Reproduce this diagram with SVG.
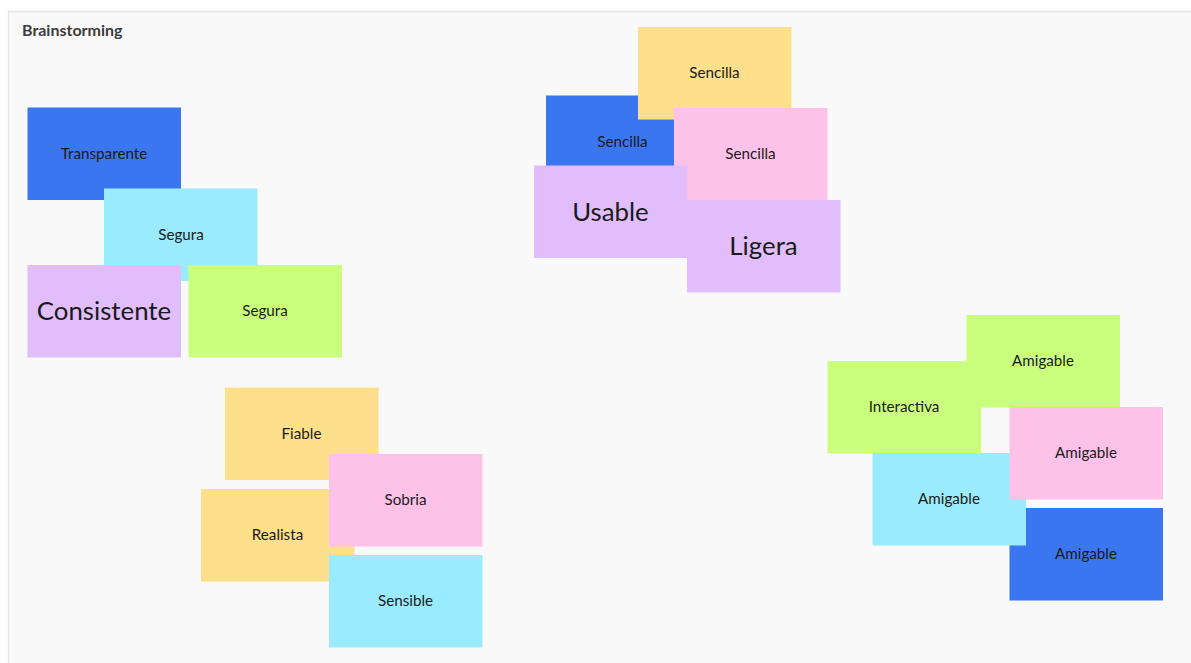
<svg xmlns="http://www.w3.org/2000/svg" width="1191" height="663" viewBox="0 0 1191 663">
<style>
.blue{fill:#3a76f0}
.cyan{fill:#9aebfd}
.purple{fill:#e1bdfb}
.green{fill:#caff7e}
.yellow{fill:#fddf8c}
.pink{fill:#fec2e9}
text{font-family:Lato,"Liberation Sans",sans-serif;fill:#1a1a1a;text-anchor:middle;dominant-baseline:central}
.t{font-size:15.2px}
.b{font-size:25.8px}
</style>
<rect x="0" y="0" width="1191" height="663" fill="#ffffff"/>
<rect x="8.5" y="11.5" width="1200" height="700" fill="#f9f9f9" stroke="#e6e6e6" stroke-width="1.5"/>
<text x="22" y="29.5" style="font-size:16px;font-weight:bold;fill:#3c3c3c;text-anchor:start">Brainstorming</text>
<g id="connectors"></g>
<g id="n-transparente"><rect class="blue" x="27.5" y="107.5" width="153.5" height="92.5"/><text class="t" x="104" y="153">Transparente</text></g>
<g id="n-segura1"><rect class="cyan" x="104" y="188.5" width="153.5" height="92.5"/><text class="t" x="181" y="234">Segura</text></g>
<g id="n-consistente"><rect class="purple" x="27.5" y="265" width="153.5" height="92.5"/><text class="b" x="104" y="310">Consistente</text></g>
<g id="n-segura2"><rect class="green" x="188.5" y="265" width="153.5" height="92.5"/><text class="t" x="265" y="310">Segura</text></g>
<g id="n-fiable"><rect class="yellow" x="225" y="387.5" width="153.5" height="92.5"/><text class="t" x="301.5" y="433">Fiable</text></g>
<g id="n-realista"><rect class="yellow" x="201" y="489" width="153.5" height="92.5"/><text class="t" x="277.5" y="534">Realista</text></g>
<g id="n-sobria"><rect class="pink" x="329" y="454" width="153.5" height="92.5"/><text class="t" x="405.5" y="499">Sobria</text></g>
<g id="n-sensible"><rect class="cyan" x="329" y="555" width="153.5" height="92.5"/><text class="t" x="405.5" y="600">Sensible</text></g>
<g id="n-sencilla-blue"><rect class="blue" x="546" y="95.5" width="153.5" height="92.5"/><text class="t" x="622.5" y="141">Sencilla</text></g>
<g id="n-sencilla-yellow"><rect class="yellow" x="638" y="27" width="153.5" height="92.5"/><text class="t" x="714.5" y="72">Sencilla</text></g>
<g id="n-sencilla-pink"><rect class="pink" x="674" y="108" width="153.5" height="92.5"/><text class="t" x="750.5" y="153">Sencilla</text></g>
<g id="n-usable"><rect class="purple" x="534" y="165.5" width="153.5" height="92.5"/><text class="b" x="610.5" y="211">Usable</text></g>
<g id="n-ligera"><rect class="purple" x="687" y="200" width="153.5" height="92.5"/><text class="b" x="763.5" y="245">Ligera</text></g>
<g id="n-amigable-blue"><rect class="blue" x="1009.5" y="508" width="153.5" height="92.5"/><text class="t" x="1086" y="553">Amigable</text></g>
<g id="n-amigable-green"><rect class="green" x="966.5" y="315" width="153.5" height="92.5"/><text class="t" x="1043" y="360">Amigable</text></g>
<g id="n-interactiva"><rect class="green" x="827.5" y="361" width="153.5" height="92.5"/><text class="t" x="904" y="406">Interactiva</text></g>
<g id="n-amigable-cyan"><rect class="cyan" x="872.5" y="453" width="153.5" height="92.5"/><text class="t" x="949" y="498">Amigable</text></g>
<g id="n-amigable-pink"><rect class="pink" x="1009.5" y="407" width="153.5" height="92.5"/><text class="t" x="1086" y="452">Amigable</text></g>
</svg>
